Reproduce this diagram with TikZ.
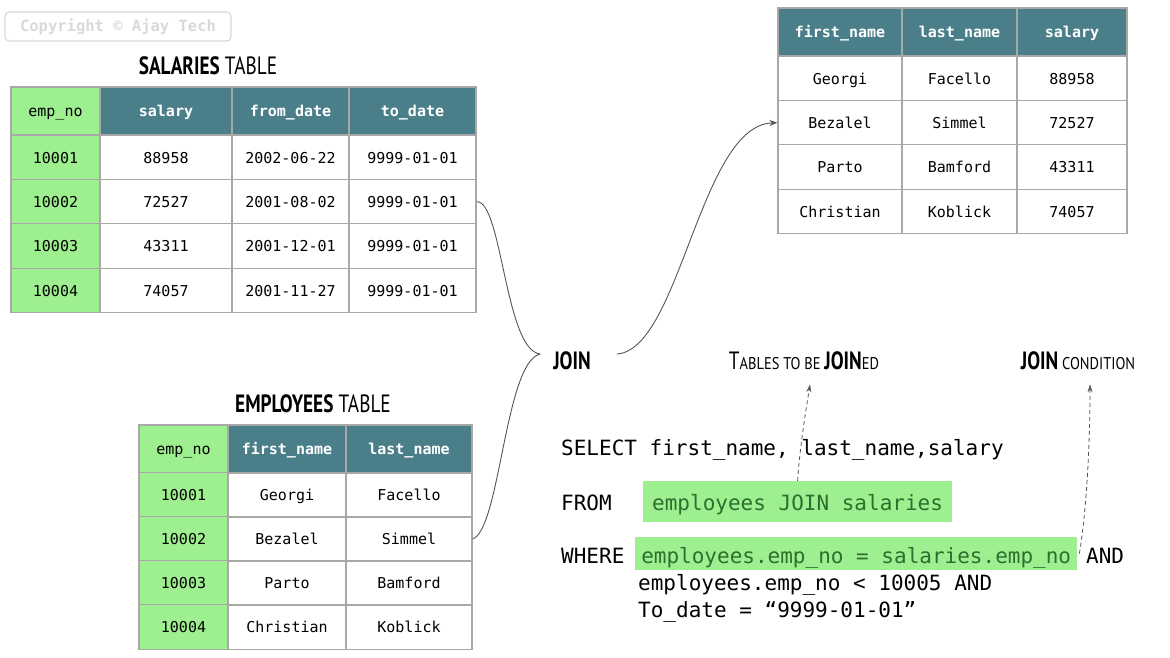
\documentclass[tikz,border=0pt]{standalone}
\usepackage{fontspec}
\usepackage{tikz}
\usetikzlibrary{positioning,arrows.meta}

\setmonofont{DejaVu Sans Mono}
\newfontfamily\handfont[FakeStretch=0.77]{PT Sans}
\newfontfamily\handsmallfont[FakeStretch=0.85]{PT Sans}
\newcommand\tabfont{\ttfamily\fontsize{15}{18}\selectfont}
\newcommand\sqlfont{\ttfamily\fontsize{21}{25}\selectfont}
\newcommand\titlefont{\handfont\fontsize{25}{30}\selectfont}
\newcommand\smallcapfont{\handsmallfont\fontsize{17}{20}\selectfont}

\definecolor{keygreen}{HTML}{9EEF8F}
\definecolor{headteal}{HTML}{4A7F8A}
\definecolor{gridgray}{HTML}{A8A8A8}
\definecolor{hltext}{HTML}{2E6E2E}
\definecolor{linkgray}{HTML}{555555}
\definecolor{copygray}{HTML}{D9D9D9}

\tikzset{
  cell/.style={draw=gridgray, line width=1.2pt, minimum height=44.25pt, inner sep=0pt,
               text height=12.5pt, text depth=1pt, font=\tabfont},
  head/.style={cell, fill=headteal, text=white, minimum height=48pt, font=\tabfont\bfseries},
  key/.style={cell, fill=keygreen},
  keyhead/.style={key, minimum height=48pt},
  title/.style={inner sep=0pt, font=\titlefont},
  sql/.style={anchor=base west, inner sep=0pt, font=\sqlfont},
  hl/.style={sql, fill=keygreen, text=hltext, inner ysep=0pt},
  link/.style={draw=linkgray, line width=0.9pt},
  hint/.style={draw=linkgray, line width=0.8pt, dash pattern=on 4pt off 3pt, -{Stealth[length=8pt,width=5pt]}}
}

\begin{document}
\begin{tikzpicture}[x=1pt,y=-1pt]
  \useasboundingbox (0,0) rectangle (1170,658);

  % watermark
  \node[draw=copygray, line width=1.2pt, rounded corners=4pt, minimum width=226pt, minimum height=29pt,
        text=copygray, font=\ttfamily\bfseries\fontsize{15.5}{18}\selectfont] (copyright) at (118,26.5) {Copyright © Ajay Tech};

  % salaries table
  \node[title] (sal_title) at (208,66) {{\bfseries SALARIES} TABLE};
  \node[keyhead, minimum width=89pt] (sal_h1) at (55.5,111) {emp\_no};
  \node[head, minimum width=132pt] (sal_h2) at (166,111) {salary};
  \node[head, minimum width=117pt] (sal_h3) at (290.5,111) {from\_date};
  \node[head, minimum width=127pt] (sal_h4) at (412.5,111) {to\_date};
  \foreach \id/\sal/\from/\to [count=\r] in {10001/88958/2002-06-22/9999-01-01,
      10002/72527/2001-08-02/9999-01-01, 10003/43311/2001-12-01/9999-01-01,
      10004/74057/2001-11-27/9999-01-01} {
    \pgfmathsetmacro\y{157.5+(\r-1)*44.25}
    \node[key, minimum width=89pt] (sal_\r_1) at (55.5,\y) {\id};
    \node[cell, minimum width=132pt] (sal_\r_2) at (166,\y) {\sal};
    \node[cell, minimum width=117pt] (sal_\r_3) at (290.5,\y) {\from};
    \node[cell, minimum width=127pt] (sal_\r_4) at (412.5,\y) {\to};
  }

  % employees table
  \node[title] (emp_title) at (313,404) {{\bfseries EMPLOYEES} TABLE};
  \node[keyhead, minimum width=89pt] (emp_h1) at (183.5,449) {emp\_no};
  \node[head, minimum width=118pt] (emp_h2) at (287,449) {first\_name};
  \node[head, minimum width=126pt] (emp_h3) at (409,449) {last\_name};
  \foreach \id/\first/\last [count=\r] in {10001/Georgi/Facello, 10002/Bezalel/Simmel,
      10003/Parto/Bamford, 10004/Christian/Koblick} {
    \pgfmathsetmacro\y{495+(\r-1)*44}
    \node[key, minimum width=89pt] (emp_\r_1) at (183.5,\y) {\id};
    \node[cell, minimum width=118pt] (emp_\r_2) at (287,\y) {\first};
    \node[cell, minimum width=126pt] (emp_\r_3) at (409,\y) {\last};
  }

  % result table
  \node[head, minimum width=124pt] (res_h1) at (840,32) {first\_name};
  \node[head, minimum width=115pt] (res_h2) at (959.5,32) {last\_name};
  \node[head, minimum width=110pt] (res_h3) at (1072,32) {salary};
  \foreach \first/\last/\sal [count=\r] in {Georgi/Facello/88958, Bezalel/Simmel/72527,
      Parto/Bamford/43311, Christian/Koblick/74057} {
    \pgfmathsetmacro\y{78.5+(\r-1)*44.25}
    \node[cell, minimum width=124pt] (res_\r_1) at (840,\y) {\first};
    \node[cell, minimum width=115pt] (res_\r_2) at (959.5,\y) {\last};
    \node[cell, minimum width=110pt] (res_\r_3) at (1072,\y) {\sal};
  }

  % join
  \node[title] (join) at (572,361) {\bfseries JOIN};
  \coordinate (join_in) at ([xshift=-13pt,yshift=7pt]join.west);
  \coordinate (join_out) at ([xshift=26pt,yshift=7pt]join.east);
  \draw[link] (sal_2_4.east) .. controls (502,200) and (505,350) .. (join_in);
  \draw[link] (emp_2_3.east) .. controls (500,530) and (505,362) .. (join_in);
  \draw[link, -{Stealth[length=8pt,width=6pt]}] (join_out) .. controls (680,350) and (700,125) .. (res_2_1.west);

  % labels
  \node[title] (tables_lbl) at (804,361) {T{\smallcapfont ABLES TO BE }{\bfseries JOIN}{\smallcapfont ED}};
  \node[title] (cond_lbl) at (1078,361) {{\bfseries JOIN}{\smallcapfont\ CONDITION}};

  % query
  \node[sql] (sql_select) at (561,455) {SELECT first\_name, last\_name,salary};
  \node[sql] (sql_from) at (561,510) {FROM};
  \node[hl, text height=29pt, text depth=12pt, inner xsep=9pt] (from_hl) at (643,510) {employees JOIN salaries};
  \node[sql] (sql_where) at (561,563) {WHERE};
  \node[hl, text height=26pt, text depth=7pt, minimum width=442pt] (where_hl) at (635,563) {employees.emp\_no = salaries.emp\_no};
  \node[sql] (sql_and) at (1086,563) {AND};
  \node[sql] (sql_cond2) at (638,590) {employees.emp\_no < 10005 AND};
  \node[sql] (sql_cond3) at (638,617) {To\_date = “9999-01-01”};

  \draw[hint] (from_hl.north) .. controls (800,445) and (806,410) .. ([xshift=6pt,yshift=-14pt]tables_lbl.south);
  \draw[hint] ([xshift=2pt]where_hl.east) .. controls (1088,500) and (1090,430) .. ([xshift=12pt,yshift=-14pt]cond_lbl.south);
\end{tikzpicture}
\end{document}
